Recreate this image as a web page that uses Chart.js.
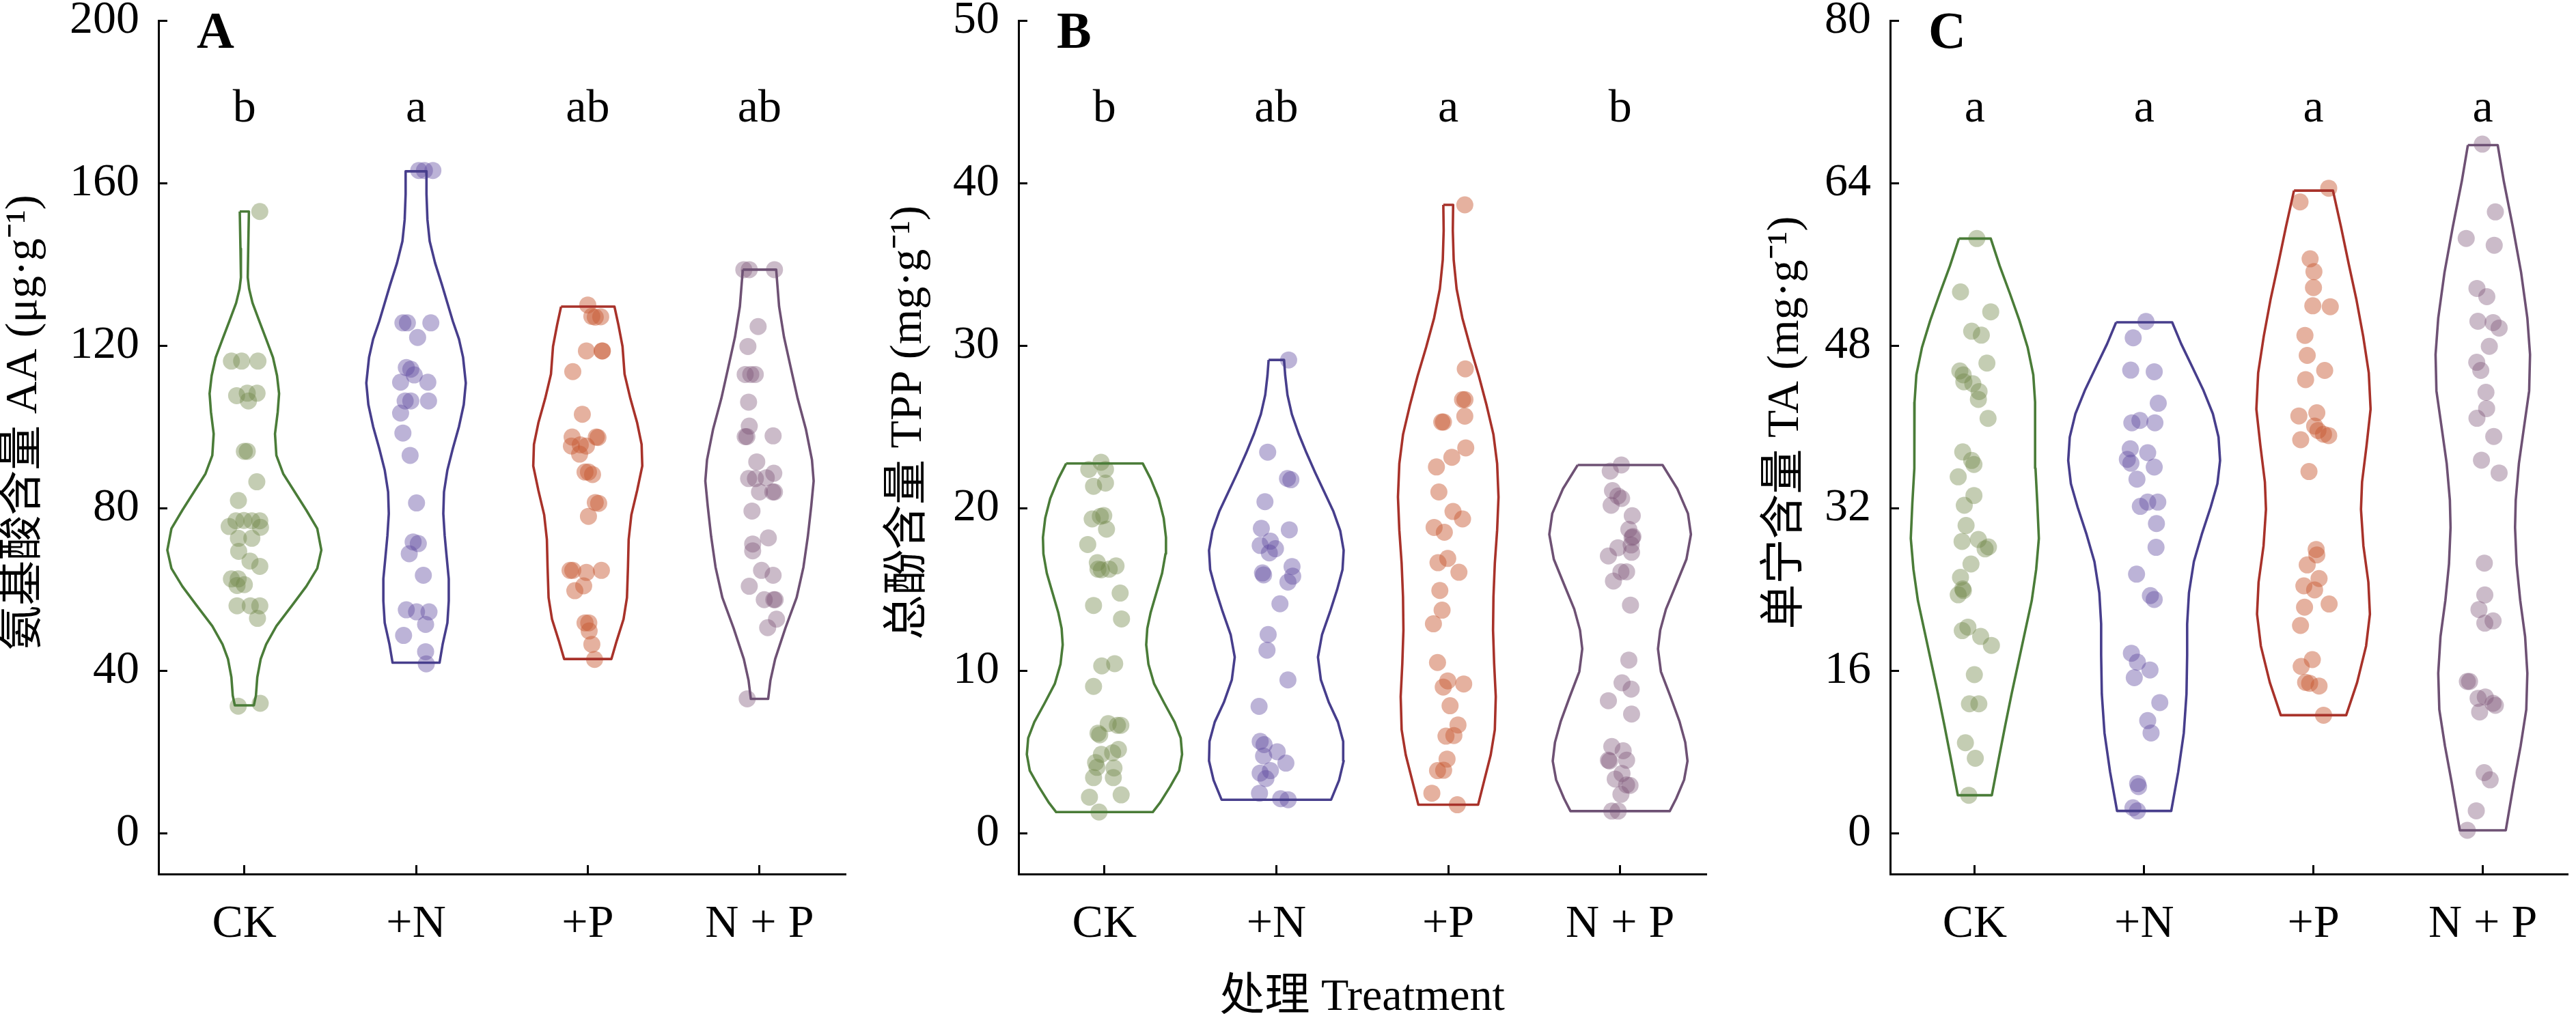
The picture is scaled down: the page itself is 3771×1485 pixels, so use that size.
<!DOCTYPE html>
<html><head><meta charset="utf-8">
<script src="https://cdn.jsdelivr.net/npm/chart.js@4.4.0/dist/chart.umd.min.js"></script>
<style>
html,body{margin:0;padding:0;background:#fff;overflow:hidden;width:3771px;height:1485px;}
.panel{position:absolute;top:0;height:1485px;}
canvas{display:block;}
</style></head><body>
<div class="panel" style="left:0;width:1250px"><canvas id="cA" width="1250" height="1485"></canvas></div>
<div class="panel" style="left:1250px;width:1260px"><canvas id="cB" width="1260" height="1485"></canvas></div>
<div class="panel" style="left:2510px;width:1261px"><canvas id="cC" width="1261" height="1485"></canvas></div>
<script>
// ---------- categories & ticks ----------
const categories = ['CK', '+N', '+P', 'N + P'];
const catX = [0.5, 1.5, 2.5, 3.5];
const aaTicks = [0, 40, 80, 120, 160, 200];
const tppTicks = [0, 10, 20, 30, 40, 50];
const taTicks = [0, 16, 32, 48, 64, 80];
const aaLetters = ['b', 'a', 'ab', 'ab'];
const tppLetters = ['b', 'ab', 'a', 'b'];
const taLetters = ['a', 'a', 'a', 'a'];

// ---------- violin outlines: [value, half width (1/252 of a category)] ----------
const aaCKViolin = [[153,6.7],[143.9,5.7],[136.8,5],[134,7],[130.5,12],[126,22],[121.6,32],[117.1,42],[112.6,48],[108.2,51],[103.7,49],[98.3,45],[93,47],[88.5,57],[84,74],[79.5,91],[75,107],[69.7,113],[65.2,107],[60.8,91],[56.3,71],[51,47],[46.5,32],[42.9,24],[38.4,19],[33.9,17],[31.5,14]];
const aaNViolin = [[162.9,15.3],[157.3,15.3],[151,16.7],[145.7,20],[140.3,28],[135,38],[130.5,46],[126,54],[121.6,63],[117.1,69],[110.8,73],[105.5,70],[100.1,63],[94.7,54],[89.4,46],[84,41],[78.7,40],[73.3,42],[67.9,45],[62.6,48],[57.2,48],[51.8,46],[46.5,39],[42,34.5]];
const aaPViolin = [[129.6,39.2],[125.1,45],[119.8,51],[113.0,54],[107.0,62.5],[101.0,72.5],[95.7,79],[90.4,80],[84.4,72.5],[78.4,64],[72.3,60],[65.5,59],[58.0,57.5],[52.7,52.5],[47.4,42.5],[42.9,34.7]];
const aaNPViolin = [[138.7,24.5],[129.6,28.8],[122.1,36],[114.5,46],[107.0,56],[99.5,68],[91.9,77],[86.7,79.5],[80.6,76],[73.1,71],[65.5,64.5],[58.0,54.5],[50.5,38],[42.9,23],[37.6,16],[33.1,12.7]];

const tppCKViolin = [[22.75,56.2],[21.8,67.8],[20.6,79.5],[19.4,86.8],[18.2,90.2],[17.2,89.5],[16.0,84.5],[14.8,76.2],[13.6,67.8],[12.6,62.8],[11.6,61.2],[10.4,64.5],[9.2,72.8],[8.0,87.8],[6.85,102.8],[5.86,111.8],[4.86,113.8],[3.86,109.5],[2.87,96.2],[1.87,81.2],[1.31,70.8]];
const tppNViolin = [[29.12,11.3],[28.17,13],[26.97,16.3],[25.78,22.7],[24.58,32.7],[23.39,44.3],[22.19,57],[21.0,70.3],[19.8,83.7],[18.61,93.7],[17.41,98.7],[16.22,97],[15.02,89.3],[13.63,78.7],[12.23,67],[10.84,61],[9.44,65.3],[8.05,77],[6.85,90.3],[5.66,98],[4.46,98.7],[3.27,92],[2.07,80.3]];
const tppPViolin = [[38.66,7.2],[37.07,6.7],[35.28,8],[33.49,12.3],[31.7,20.7],[29.91,32.3],[28.12,45],[26.32,56.3],[24.53,66.3],[22.74,71.7],[20.69,73.7],[18.65,71.7],[16.6,68.3],[14.55,66.3],[12.5,65.7],[10.46,67.3],[8.41,69.7],[6.37,68.3],[4.83,62.3],[3.29,53],[1.76,43.8]];
const tppNPViolin = [[22.66,62.2],[21.2,83.8],[19.67,99.5],[18.39,103.8],[16.86,97.2],[15.32,82.2],[13.79,67.2],[12.5,58.8],[11.35,55.5],[9.95,59.8],[8.41,73.8],[6.87,87.2],[5.6,95.5],[4.45,98.8],[3.29,93.8],[2.14,82.2],[1.37,72.8]];

const taCKViolin = [[58.54,23.7],[55.85,37],[53.17,52],[50.49,66.3],[47.81,78.7],[45.13,87],[42.44,89.7],[39.38,89.7],[35.93,90.3],[32.48,93],[29.03,95.3],[25.97,91.3],[22.9,84.7],[19.84,74.7],[16.77,64.7],[13.71,54.7],[10.64,45.3],[7.58,36.3],[3.75,25.3]];
const taNViolin = [[50.3,41.7],[48.19,55],[45.89,71.7],[43.59,88.3],[41.29,102.3],[39.0,110.7],[36.7,113],[34.4,109],[32.1,99],[29.42,85.7],[26.74,74],[23.67,66.7],[20.61,64],[17.54,64],[13.71,63],[9.88,59],[6.05,50.7],[2.21,40.3]];
const taPViolin = [[63.26,29],[59.68,41],[56.09,52.3],[52.5,64],[48.92,74],[45.33,82.3],[41.75,85],[38.16,79],[34.58,72.3],[31.89,70.7],[28.31,74.3],[24.72,81.7],[21.58,84],[18.44,78.3],[14.86,65],[11.63,48.7]];
const taNPViolin = [[67.74,22.2],[64.16,31.3],[59.68,44.7],[55.2,57],[50.72,66.3],[47.13,70.3],[43.55,69],[39.96,61.3],[36.38,53.7],[32.79,49],[30.1,48],[26.52,50.3],[22.93,55.7],[19.35,63],[15.76,66.3],[12.18,64.7],[8.6,56.3],[5.01,46.3],[0.3,34.2]];

// ---------- observations: [value, horizontal jitter (1/252 of a category)] ----------
const aaCK = [[153.0,22.7],[116.2,-19],[116.2,-4],[116.2,20],[107.7,-11.3],[108.3,4.3],[108.3,18.7],[106.4,6],[94.0,0],[94.0,4.3],[86.5,18.3],[81.9,-8.7],[75.5,-22.3],[76.9,-12.3],[77.0,-0.7],[76.9,11],[76.9,22.7],[75.3,23.7],[72.6,-8.7],[72.6,11],[69.4,-8.3],[67.0,8.3],[65.7,22.7],[62.6,-19],[62.6,-9],[61.0,-10.7],[61.2,0],[56.0,-10.7],[56.0,8.7],[56.0,22.7],[52.9,19.3],[31.3,-9],[32.0,23.3]];
const aaN = [[163.1,4],[163.1,12.3],[163.1,24.7],[125.6,-19.3],[125.6,-12.7],[125.6,21.7],[122.0,2.3],[114.6,-14.3],[114.2,-7.7],[112.8,-2.7],[111.0,-22.7],[111.0,17.3],[106.4,-16],[106.4,-7.7],[106.4,18.3],[103.4,-22.7],[98.5,-19.3],[93.0,-8.7],[81.3,0.7],[71.7,-4.3],[71.3,3.3],[68.8,-10],[63.5,10.7],[55.0,-14.3],[54.5,0.7],[54.5,19],[51.4,14],[48.7,-18.3],[44.7,14],[41.7,15]];
const aaP = [[130.0,0],[127.2,6],[127.1,19],[127.0,11],[118.7,-2],[118.7,21],[118.7,21.5],[113.6,-22],[103.1,-8],[97.5,-23],[97.5,12.5],[97.4,15],[95.3,-24],[95.6,-11],[95.3,-2],[93.3,-12],[88.9,-4],[88.9,1],[88.3,7],[81.4,11],[81.2,16],[78.0,1],[64.7,-26],[64.7,-22],[64.2,-2],[64.7,20],[59.7,-19],[60.9,-6],[51.8,-4],[51.8,1.5],[49.8,2],[46.5,6],[42.8,10]];
const aaNP = [[138.7,-23],[138.7,-15],[138.7,22],[124.7,-2],[119.8,-17],[112.9,-21],[112.9,-12.8],[112.9,-6.2],[106.1,-16],[100.2,-15],[97.6,-21],[97.6,-18.5],[97.8,20],[91.4,-4],[87.3,-16],[87.3,-6],[87.5,10],[88.6,21],[84.0,0],[84.0,19.5],[84.0,22],[79.3,-11],[71.2,-10],[72.7,13],[69.5,-10],[64.7,3],[63.5,20],[60.8,-15],[57.5,7],[57.5,21],[57.5,23],[52.7,25],[50.6,12],[33.1,-18]];

const tppCK = [[22.83,-5],[22.39,-23],[22.39,1.5],[21.35,-16],[21.55,1.5],[19.34,-18],[19.5,-6],[19.55,-1],[18.71,3],[17.77,-24.5],[16.65,-10.5],[16.25,-9.5],[16.21,-4.5],[16.25,7],[16.45,17],[14.78,23],[14.02,-16],[13.19,25],[10.3,-4],[10.44,15],[9.04,-16],[6.75,5.5],[6.65,19],[6.65,24],[6.16,-9.5],[6.06,-7],[4.86,-4.5],[4.96,12],[5.16,20.5],[4.36,-13],[4.06,-11],[4.02,14],[3.43,-16],[3.43,13],[2.23,-22],[2.37,24.5],[1.31,-8]];
const tppN = [[29.12,18],[23.45,-12.7],[21.83,16.3],[21.75,21.3],[20.4,-16.7],[18.76,-22],[18.67,19],[17.97,-8.7],[17.71,-23.7],[17.51,-1.3],[17.25,-10.3],[16.02,-20.3],[15.9,-18.7],[16.41,23],[15.82,24],[15.46,17],[14.12,5.3],[12.23,-12],[11.27,-13.7],[9.44,17],[7.81,-25.3],[5.66,-23.7],[5.46,-18],[5.02,1.3],[4.76,-18.7],[4.32,14],[3.86,-8.7],[3.71,-23.7],[3.37,-15.3],[2.47,-24.7],[2.13,6.3],[2.07,17.3]];
const tppP = [[38.66,24.3],[28.57,25],[26.68,21],[26.68,24.5],[25.66,24.3],[25.30,-9.5],[25.30,-7],[23.71,25.7],[23.13,5.3],[22.54,-17.3],[21.0,-13.7],[19.8,7],[19.34,21],[18.82,-20.7],[18.52,-5.7],[16.65,-15],[16.91,-0.7],[16.06,15.7],[14.94,-12.3],[13.73,-9],[12.89,-21.7],[10.51,-15.7],[9.38,-0.7],[9.0,-7.3],[9.19,22.7],[7.85,2.7],[6.67,14.3],[5.98,-3.3],[6.02,8.3],[4.57,-1.7],[3.86,-15.7],[3.88,-6.7],[2.47,-24],[1.76,13.3]];
const tppNP = [[22.66,1.8],[22.28,-14.5],[21.08,-11.2],[20.75,-3.2],[20.6,2.2],[20.18,-13.2],[19.54,17.8],[18.7,12.8],[18.26,18.8],[18.2,17.5],[17.57,-3.2],[17.74,16.2],[17.29,16.8],[17.06,-17.2],[16.09,1.2],[16.09,9.5],[15.52,-9.8],[14.04,15.2],[10.66,12.8],[9.26,2.8],[8.87,16.2],[8.16,-17.2],[7.34,16.8],[5.34,-12.2],[5.08,4.5],[4.5,-17.2],[4.45,-15.5],[4.5,9.5],[3.34,-7.2],[3.68,2.8],[2.98,9.5],[2.95,14.5],[2.4,1.2],[1.37,-12.2],[1.37,-2.8]];

const taCK = [[58.54,3],[53.29,-21.3],[51.33,23.7],[49.42,-4.7],[49.03,9.7],[46.28,18],[45.51,-22.3],[45.13,-17.3],[44.44,-16.3],[44.25,-3],[43.48,6.3],[42.71,5.3],[40.84,19.7],[37.54,-18],[36.7,-4.7],[36.31,-1.3],[35.09,-24.7],[33.25,-1.3],[32.29,-15.7],[30.3,-13],[28.73,-19],[28.92,5.3],[28.0,15.3],[28.19,20.3],[26.51,-5.7],[25.2,-21.3],[24.05,-18],[23.9,-17],[23.48,-24.7],[20.3,-10.3],[19.95,-18.7],[19.38,8.7],[18.5,24.7],[15.62,-0.7],[12.75,-8],[12.75,6],[8.92,-14],[7.39,0.7],[3.75,-9]];
const taN = [[50.38,2.7],[48.77,-16.3],[45.59,-20],[45.43,15],[42.33,21],[40.41,-18.3],[40.64,-6.3],[40.41,16],[37.85,-20.7],[36.81,-25],[36.43,-19.7],[37.46,5.3],[36.05,15],[34.86,-10.7],[32.18,-5.7],[32.6,5.3],[32.6,20.3],[30.49,18.3],[28.15,17.7],[25.51,-11.3],[23.4,9.3],[23.02,15],[17.73,-19],[16.85,-10],[16.08,8.7],[15.32,-14.7],[12.87,23.3],[11.1,5.3],[9.88,10.3],[4.9,-9.7],[4.6,-8.3],[2.52,-16.7],[2.21,-10]];
const taP = [[63.49,22.7],[62.14,-20],[56.54,-5],[55.28,0.7],[53.71,0],[51.92,-1],[51.83,25],[49.01,-12.7],[47.04,-9.3],[45.56,16.7],[44.66,-11.7],[41.08,-21.7],[41.39,5],[40.09,1.7],[39.65,6.7],[39.28,15],[39.15,22.7],[38.74,-19],[35.61,-6.7],[27.94,4],[27.4,5],[26.42,-9.3],[25.08,8.3],[24.36,-14.3],[23.96,1.7],[22.57,23.3],[22.26,-13.3],[20.46,-19.3],[17.1,-1.7],[16.43,-18.3],[14.86,-11.7],[14.77,-5.7],[14.5,8.3],[11.63,15]];
const taNP = [[67.83,-0.7],[61.16,18.7],[58.55,-24.7],[57.88,17],[53.63,-8.7],[52.82,6],[50.4,-7.3],[50.27,15.3],[49.73,24.3],[47.93,9.7],[46.36,-9],[45.56,-3],[43.41,4.7],[41.8,5.7],[40.85,-8.7],[39.06,16.3],[36.73,-2],[35.47,24.3],[26.6,2.3],[23.46,3],[22.03,-5.7],[20.69,3],[20.91,15.3],[14.95,-23],[14.95,-19.7],[13.29,-7],[13.43,3.7],[12.8,15.3],[12.6,18.7],[11.95,-4.7],[5.98,2],[5.27,11],[2.22,-9.7],[0.3,-23]];

// ---------- styles ----------
const UNIT = 1 / 252;
const outlineColors = ['#4a7c38', '#473e8c', '#a8322a', '#6e5174'];
const pointColors = ['rgba(115,135,75,0.42)', 'rgba(95,75,160,0.42)', 'rgba(200,90,50,0.47)', 'rgba(125,85,120,0.40)'];

Chart.defaults.font.family = '"Liberation Serif", "Noto Sans CJK SC", serif';
Chart.defaults.color = '#000';

function violinPath(center, v) {
  const left = v.map(([y, w]) => ({x: center - w * UNIT, y: y}));
  const right = v.slice().reverse().map(([y, w]) => ({x: center + w * UNIT, y: y}));
  return left.concat(right, [left[0]]);
}

const annot = {
  id: 'annot',
  afterDraw(chart, args, o) {
    const {ctx, chartArea: a} = chart;
    const xs = chart.scales.x;
    ctx.save();
    ctx.fillStyle = '#000';
    ctx.textBaseline = 'alphabetic';
    ctx.textAlign = 'left';
    ctx.font = 'bold 76px "Liberation Serif"';
    ctx.fillText(o.panel, a.left + 56, a.top + 40);
    ctx.textAlign = 'center';
    ctx.font = '68px "Liberation Serif"';
    o.letters.forEach((t, i) => ctx.fillText(t, xs.getPixelForValue(catX[i]), a.top + 148));
    ctx.font = '66px "Liberation Serif", "Noto Sans CJK SC"';
    ctx.translate(a.left - o.titleOffset, (a.top + a.bottom) / 2 - 36);
    ctx.rotate(-Math.PI / 2);
    ctx.textBaseline = 'middle';
    ctx.fillText(o.yTitle, 0, 0);
    ctx.restore();
  }
};

function makePanel(id, p) {
  const datasets = [];
  p.groups.forEach((g, i) => {
    datasets.push({
      type: 'scatter',
      data: g.pts.map(([v, j]) => ({x: catX[i] + j * UNIT, y: v})),
      pointRadius: 12.5, pointHoverRadius: 12.5,
      backgroundColor: pointColors[i], borderWidth: 0, order: 2
    });
    datasets.push({
      type: 'line',
      data: violinPath(catX[i], g.violin),
      borderColor: outlineColors[i], borderWidth: 3.6,
      pointRadius: 0, fill: false, tension: 0, order: 1,
      borderJoinStyle: 'round'
    });
  });
  const gridOpt = {display: true, drawOnChartArea: false, drawTicks: true, tickLength: -13, color: '#000', lineWidth: 3};
  const borderOpt = {display: true, color: '#000', width: 3};
  new Chart(document.getElementById(id), {
    type: 'scatter',
    data: {datasets},
    plugins: [annot],
    options: {
      responsive: false, animation: false, devicePixelRatio: 1, events: [],
      layout: {padding: {left: 0, right: p.padRight, top: 30, bottom: 0}},
      plugins: {
        legend: {display: false}, tooltip: {enabled: false},
        annot: {panel: p.panel, letters: p.letters, yTitle: p.yTitle, titleOffset: p.titleOffset}
      },
      scales: {
        x: {
          type: 'linear', min: 0, max: 4,
          afterBuildTicks: s => { s.ticks = catX.map(v => ({value: v})); },
          afterFit: s => { s.height = 205; s.paddingLeft = 0; s.paddingRight = 0; },
          ticks: {callback: (v, i) => categories[i], font: {size: 68}, color: '#000', padding: 46, maxRotation: 0, autoSkip: false},
          grid: gridOpt, border: borderOpt,
          title: p.xTitle ? {display: true, text: p.xTitle, font: {size: 66, lineHeight: 0.7}, color: '#000', padding: 0} : {display: false}
        },
        y: {
          type: 'linear', min: p.min, max: p.max,
          afterBuildTicks: s => { s.ticks = p.ticks.map(v => ({value: v})); },
          afterFit: s => { s.width = p.yWidth; s.paddingTop = 0; s.paddingBottom = 0; },
          ticks: {font: {size: 68}, color: '#000', padding: 41},
          grid: gridOpt, border: borderOpt
        }
      }
    }
  });
}

makePanel('cA', {
  panel: 'A', letters: aaLetters, yTitle: '氨基酸含量 AA (μg·g⁻¹)', titleOffset: 196,
  min: -10, max: 200, ticks: aaTicks, yWidth: 232, padRight: 10,
  groups: [{pts: aaCK, violin: aaCKViolin}, {pts: aaN, violin: aaNViolin}, {pts: aaP, violin: aaPViolin}, {pts: aaNP, violin: aaNPViolin}]
});
makePanel('cB', {
  panel: 'B', letters: tppLetters, yTitle: '总酚含量 TPP (mg·g⁻¹)', titleOffset: 160,
  min: -2.5, max: 50, ticks: tppTicks, yWidth: 241, padRight: 10, xTitle: '处理 Treatment',
  groups: [{pts: tppCK, violin: tppCKViolin}, {pts: tppN, violin: tppNViolin}, {pts: tppP, violin: tppPViolin}, {pts: tppNP, violin: tppNPViolin}]
});
makePanel('cC', {
  panel: 'C', letters: taLetters, yTitle: '单宁含量 TA (mg·g⁻¹)', titleOffset: 152,
  min: -4, max: 80, ticks: taTicks, yWidth: 257, padRight: 0,
  groups: [{pts: taCK, violin: taCKViolin}, {pts: taN, violin: taNViolin}, {pts: taP, violin: taPViolin}, {pts: taNP, violin: taNPViolin}]
});
</script>
</body></html>
